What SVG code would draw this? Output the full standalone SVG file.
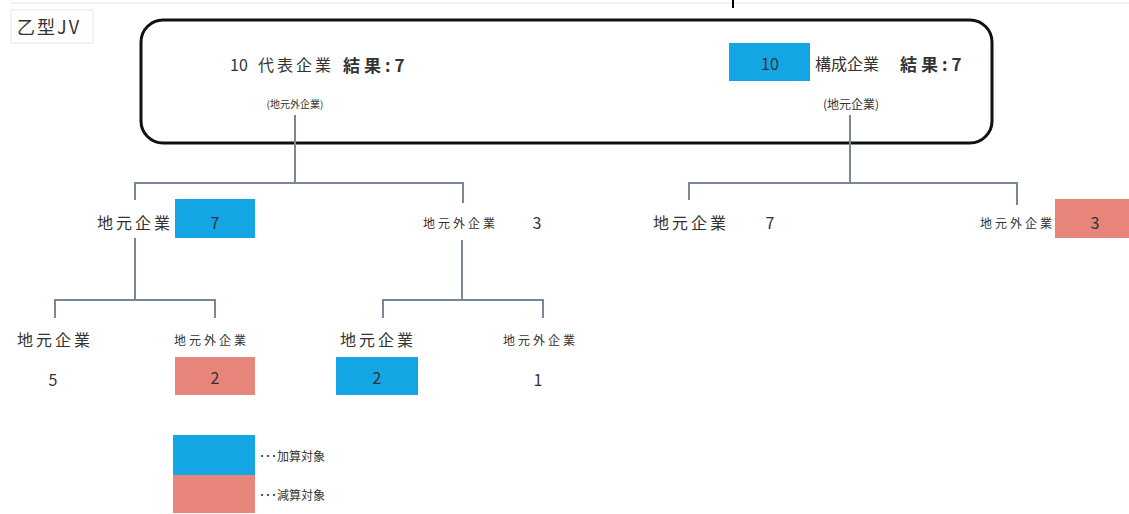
<svg xmlns="http://www.w3.org/2000/svg" width="1129" height="514" viewBox="0 0 1129 514">
<style>
text{font-family:"Noto Sans CJK JP","Liberation Sans",sans-serif;fill:#333;dominant-baseline:central}
.l{font-size:16px;letter-spacing:3px}
.s{font-size:12px;letter-spacing:3px}
.n{font-size:16px;text-anchor:middle}
.b{font-weight:bold;font-size:17px;letter-spacing:4px}
.blue{fill:#14a6e4}
.red{fill:#e8857a}
.c{fill:none;stroke:#7a8896;stroke-width:2}
</style>
<rect width="1129" height="514" fill="#fff"/>
<line x1="10" y1="3" x2="1129" y2="3" stroke="#e4e4e4" stroke-width="1"/>
<line x1="733" y1="0" x2="733" y2="8" stroke="#000" stroke-width="2"/>
<g id="title">
<rect x="11" y="10" width="82" height="33" fill="#fff" stroke="#e6e6e6"/>
<text x="17" y="26" font-size="18" letter-spacing="2">乙型JV</text>
</g>
<g id="top">
<rect x="141" y="20" width="851" height="123" rx="22" fill="#fff" stroke="#111" stroke-width="3"/>
<text x="230" y="64" font-size="16">10</text>
<text x="258" y="64" class="l" fill="#555">代表企業</text>
<text x="343" y="64" class="b">結果:7</text>
<text x="295" y="103" font-size="10" text-anchor="middle">(地元外企業)</text>
<rect x="729" y="43" width="81" height="38" class="blue"/>
<text x="770" y="63" class="n" font-size="14">10</text>
<text x="815" y="63" font-size="16">構成企業</text>
<text x="900" y="63" class="b">結果:7</text>
<text x="851" y="103" font-size="12" text-anchor="middle">(地元企業)</text>
</g>
<g id="connectors">
<path class="c" d="M295 115V183M135 200V183H463V203"/>
<path class="c" d="M850 115V183M689 200V183H1017V205"/>
<path class="c" d="M135 238V300M55 318V300H215V318"/>
<path class="c" d="M462 240V300M383 318V300H543V318"/>
</g>
<g id="n-l1">
<text x="97" y="222" class="l">地元企業</text>
<rect x="175" y="199" width="80" height="39" class="blue"/>
<text x="215" y="222" class="n">7</text>
</g>
<g id="n-l2">
<text x="423" y="222" class="s">地元外企業</text>
<text x="537" y="222" class="n">3</text>
</g>
<g id="n-r1">
<text x="653" y="222" class="l">地元企業</text>
<text x="770" y="222" class="n">7</text>
</g>
<g id="n-r2">
<text x="980" y="222" class="s" letter-spacing="2.5">地元外企業</text>
<rect x="1055" y="199" width="74" height="39" class="red"/>
<text x="1095" y="222" class="n">3</text>
</g>
<g id="n-ll">
<text x="17" y="339" class="l">地元企業</text>
<text x="53" y="379" class="n">5</text>
</g>
<g id="n-lr">
<text x="174" y="339" class="s" letter-spacing="4">地元外企業</text>
<rect x="175" y="357" width="80" height="38" class="red"/>
<text x="215" y="377" class="n">2</text>
</g>
<g id="n-ml">
<text x="340" y="339" class="l">地元企業</text>
<rect x="336" y="357" width="82" height="38" class="blue"/>
<text x="377" y="377" class="n">2</text>
</g>
<g id="n-mr">
<text x="503" y="339" class="s">地元外企業</text>
<text x="538" y="379" class="n">1</text>
</g>
<g id="legend">
<rect x="173" y="435" width="82" height="40" class="blue"/>
<rect x="173" y="475" width="82" height="38" class="red"/>
<text x="259" y="455" font-size="12">･･･加算対象</text>
<text x="259" y="494" font-size="12">･･･減算対象</text>
</g>
</svg>
